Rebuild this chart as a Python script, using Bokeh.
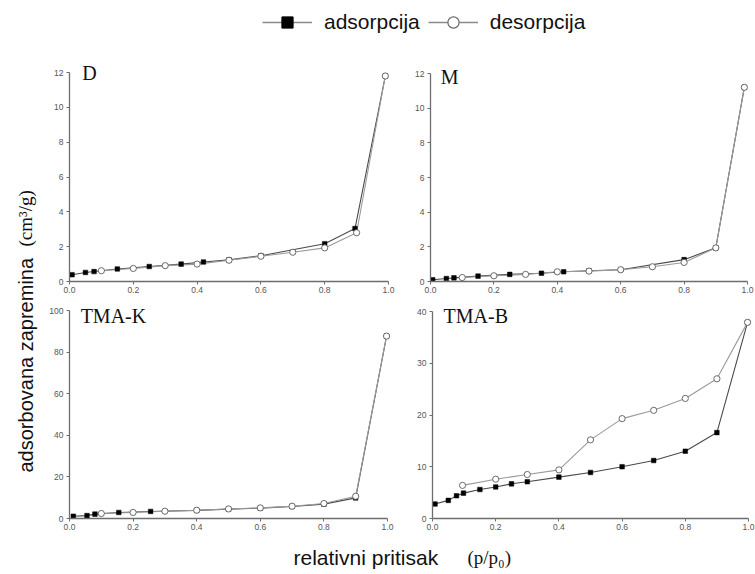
import math
from bokeh.plotting import figure
from bokeh.layouts import row, column
from bokeh.models import (Range1d, FixedTicker, PrintfTickFormatter, Label,
                          Legend, LegendItem)
from bokeh.embed import file_html
from bokeh.resources import INLINE

# ---------------- data ----------------
x_ticks = [0.0, 0.2, 0.4, 0.6, 0.8, 1.0]

d_ads_x = [0.008, 0.05, 0.077, 0.15, 0.25, 0.35, 0.42, 0.5, 0.6, 0.8, 0.895, 0.99]
d_ads_y = [0.39, 0.52, 0.57, 0.72, 0.86, 1.0, 1.12, 1.24, 1.48, 2.17, 3.04, 11.8]
d_des_x = [0.1, 0.2, 0.3, 0.4, 0.5, 0.6, 0.7, 0.8, 0.9, 0.99]
d_des_y = [0.62, 0.75, 0.91, 1.0, 1.22, 1.45, 1.68, 1.93, 2.8, 11.8]

m_ads_x = [0.007, 0.05, 0.074, 0.15, 0.25, 0.35, 0.42, 0.5, 0.6, 0.8, 0.9, 0.99]
m_ads_y = [0.1, 0.17, 0.21, 0.31, 0.41, 0.48, 0.56, 0.62, 0.68, 1.26, 1.94, 11.2]
m_des_x = [0.1, 0.2, 0.3, 0.4, 0.5, 0.6, 0.7, 0.8, 0.9, 0.99]
m_des_y = [0.23, 0.33, 0.41, 0.56, 0.6, 0.68, 0.85, 1.1, 1.94, 11.2]

k_ads_x = [0.012, 0.055, 0.08, 0.155, 0.255, 0.4, 0.5, 0.6, 0.7, 0.8, 0.9, 0.997]
k_ads_y = [1.1, 1.4, 2.1, 2.9, 3.4, 3.9, 4.5, 5.0, 5.8, 6.9, 9.9, 87.7]
k_des_x = [0.1, 0.2, 0.3, 0.4, 0.5, 0.6, 0.7, 0.8, 0.9, 0.997]
k_des_y = [2.4, 2.9, 3.5, 4.0, 4.6, 5.1, 5.9, 7.2, 10.7, 87.7]

b_ads_x = [0.008, 0.05, 0.076, 0.098, 0.15, 0.2, 0.25, 0.3, 0.4, 0.5, 0.6, 0.7, 0.8, 0.9, 0.997]
b_ads_y = [2.8, 3.5, 4.4, 4.9, 5.6, 6.1, 6.7, 7.1, 8.0, 8.9, 10.0, 11.2, 13.0, 16.6, 37.9]
b_des_x = [0.095, 0.2, 0.3, 0.4, 0.5, 0.6, 0.7, 0.8, 0.9, 0.997]
b_des_y = [6.4, 7.6, 8.5, 9.4, 15.2, 19.3, 20.9, 23.2, 27.0, 37.9]

series_names = ["adsorpcija", "desorpcija"]
panel_names = ["D", "M", "TMA-K", "TMA-B"]
y_label = "adsorbovana zapremina"
y_unit = "(cm\u00b3/g)"
x_label = "relativni pritisak"
x_unit = "(p/p\u2080)"

# ---------------- styles ----------------
ADS_LINE = "#4a4a4a"
DES_LINE = "#9a9a9a"
AXIS_C = "#6e6e6e"
TICK_TXT = "#555555"
SANS = "Liberation Sans"
SERIF = "Liberation Serif"


def panel(name, ax, ay, dx, dy, ymax, yticks, w, h, bl, br, bb,
          axis_len_x, axis_len_y, lx, ly):
    # frame occupies the figure minus borders; the axes are bounded to the
    # data extent so the frame may extend a little further (room for labels)
    frame_w = w - bl - br
    frame_h = h - bb
    xend = frame_w / axis_len_x
    yend = ymax * frame_h / axis_len_y
    p = figure(width=w, height=h, x_range=Range1d(0, xend), y_range=Range1d(0, yend),
               toolbar_location=None, output_backend="svg", title=None,
               min_border_left=bl, min_border_right=br,
               min_border_top=0, min_border_bottom=bb)
    p.grid.visible = False
    p.outline_line_color = None
    p.background_fill_color = "white"
    p.border_fill_color = "white"
    p.xaxis.ticker = FixedTicker(ticks=x_ticks)
    p.xaxis.formatter = PrintfTickFormatter(format="%.1f")
    p.xaxis.bounds = (0, 1)
    p.yaxis.ticker = FixedTicker(ticks=yticks)
    p.yaxis.bounds = (0, ymax)
    for axis in (p.xaxis, p.yaxis):
        axis.axis_line_color = AXIS_C
        axis.axis_line_width = 1.3
        axis.major_tick_line_color = AXIS_C
        axis.major_tick_line_width = 1
        axis.major_tick_out = 3
        axis.major_tick_in = 0
        axis.minor_tick_line_color = None
        axis.major_label_text_font = SANS
        axis.major_label_text_font_size = "8.5px"
        axis.major_label_text_color = TICK_TXT
    p.xaxis.major_label_standoff = 2
    p.yaxis.major_label_standoff = 3

    p.line(ax, ay, line_color=ADS_LINE, line_width=1.1)
    p.line(dx, dy, line_color=DES_LINE, line_width=1.1)
    p.scatter(ax, ay, marker="square", size=4.6, fill_color="black",
              line_color="black", line_width=0.5)
    p.scatter(dx, dy, marker="circle", size=6.2, fill_color="white",
              line_color="#5a5a5a", line_width=0.9)
    p.add_layout(Label(x=lx, y=ly, text=name, text_font=SERIF,
                       text_font_size="20px", text_color="#111111",
                       text_align="left", text_baseline="middle"))
    return p


# top row figures span page y 60..300, bottom row 300..540
pD = panel(panel_names[0], d_ads_x, d_ads_y, d_des_x, d_des_y, 12, [0, 2, 4, 6, 8, 10, 12],
           360, 240, 29, 6, 19, 319, 209, 0.04, 12.0)
pM = panel(panel_names[1], m_ads_x, m_ads_y, m_des_x, m_des_y, 12, [0, 2, 4, 6, 8, 10, 12],
           355, 240, 30, 2, 19, 317, 208, 0.032, 11.8)
pK = panel(panel_names[2], k_ads_x, k_ads_y, k_des_x, k_des_y, 100, [0, 20, 40, 60, 80, 100],
           360, 240, 29, 7, 22, 318, 208, 0.035, 97.4)
pB = panel(panel_names[3], b_ads_x, b_ads_y, b_des_x, b_des_y, 40, [0, 10, 20, 30, 40],
           355, 240, 32, 1, 22, 316, 207, 0.035, 39.2)

# ---------------- legend strip ----------------
lf = figure(width=755, height=60, x_range=Range1d(0, 755), y_range=Range1d(0, 60),
            x_axis_location=None, y_axis_location=None, toolbar_location=None,
            output_backend="svg", title=None, min_border=0)
lf.grid.visible = False
lf.outline_line_color = None
# legend-only renderers, kept outside the visible range
off = [-100, -90]
la = lf.line(off, off, line_color="#8a8a8a", line_width=1.3)
sa = lf.scatter(off, off, marker="square", fill_color="black", line_color="black")
ld = lf.line(off, off, line_color="#8a8a8a", line_width=1.3)
sd = lf.scatter(off, off, marker="circle", fill_color="white", line_color="#6a6a6a",
                line_width=1.2)
leg = Legend(items=[LegendItem(label=series_names[0], renderers=[la, sa]),
                    LegendItem(label=series_names[1], renderers=[ld, sd])],
             orientation="horizontal", location=(262, 24),
             glyph_width=50, glyph_height=28, label_standoff=12, spacing=8,
             padding=0, margin=0, border_line_alpha=0, background_fill_alpha=0,
             label_text_font=SANS, label_text_font_size="21px",
             label_text_color="#111111", label_text_baseline="middle")
lf.add_layout(leg)

# ---------------- y label strip ----------------
yf = figure(width=40, height=480, x_range=Range1d(0, 40), y_range=Range1d(540, 60),
            x_axis_location=None, y_axis_location=None, toolbar_location=None,
            output_backend="svg", title=None, min_border=0)
yf.grid.visible = False
yf.outline_line_color = None
yf.add_layout(Label(x=25, y=472, text=y_label, angle=math.pi / 2,
                    text_font=SANS, text_font_size="20px", text_color="#111111",
                    text_align="left", text_baseline="middle"))
yf.add_layout(Label(x=25, y=246, text=y_unit, angle=math.pi / 2,
                    text_font=SERIF, text_font_size="19px", text_color="#111111",
                    text_align="left", text_baseline="middle"))

# ---------------- x label strip ----------------
xf = figure(width=755, height=34, x_range=Range1d(0, 755), y_range=Range1d(574, 540),
            x_axis_location=None, y_axis_location=None, toolbar_location=None,
            output_backend="svg", title=None, min_border=0)
xf.grid.visible = False
xf.outline_line_color = None
xf.add_layout(Label(x=293, y=557, text=x_label, text_font=SANS,
                    text_font_size="21px", text_color="#111111",
                    text_align="left", text_baseline="middle"))
xf.add_layout(Label(x=467, y=557, text=x_unit, text_font=SERIF,
                    text_font_size="19px", text_color="#111111",
                    text_align="left", text_baseline="middle"))

layout = column(lf, row(yf, column(row(pD, pM), row(pK, pB))), xf)

open("out.html", "w").write(file_html(layout, INLINE))
